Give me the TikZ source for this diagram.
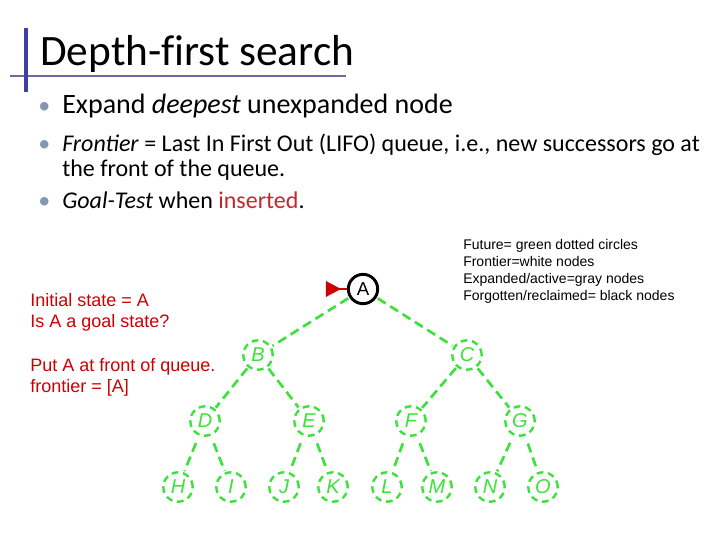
\documentclass[tikz,border=0pt]{standalone}
\usepackage{fontspec}
\setmainfont{Carlito}
\newfontfamily\notefont{Liberation Sans}
\newfontfamily\keyfont{Liberation Sans}
\definecolor{titlebar}{HTML}{3F3FA6}
\definecolor{titlerule}{HTML}{6C6C9C}
\definecolor{bulletcol}{HTML}{8497B0}
\definecolor{notered}{HTML}{CC0000}
\definecolor{insred}{HTML}{C0282D}
\definecolor{futuregreen}{HTML}{3AE23A}

\begin{document}
\begin{tikzpicture}[x=0.75pt,y=-0.75pt,
    txt/.style={anchor=base west,inner sep=0pt},
    future/.style={circle,draw=futuregreen,line width=1.8pt,dash pattern=on 5pt off 3.5pt,
        minimum size=22pt,inner sep=0pt,text=futuregreen,font=\keyfont\itshape\fontsize{15}{17}\selectfont},
    frontier/.style={circle,draw=black,line width=2.2pt,fill=white,
        minimum size=22pt,inner sep=0pt,font=\keyfont\fontsize{14}{16}\selectfont},
    edge/.style={futuregreen,line width=2pt,dash pattern=on 7pt off 4pt,shorten <=1pt,shorten >=1pt}]
        \useasboundingbox (0,0) rectangle (720,540);

        % title
        \node[txt,font=\fontsize{32.5}{38}\selectfont] (title) at (40,65) {Depth-f\kern0pt irst search};
        \draw[titlerule,line width=2.2pt] (10,76) -- (346,76);
        \draw[titlebar,line width=3pt] (26,28) -- (26,92);

        % bullets
        \node[txt,text=bulletcol,font=\fontsize{18}{22}\selectfont] (b1) at (38,113) {•};
        \node[txt,font=\fontsize{21}{25}\selectfont] (l1) at (62,113) {Expand \textit{deepest} unexpanded node};
        \begin{scope}[font=\fontsize{18}{22}\selectfont]
        \node[txt,text=bulletcol] (b2) at (38,151) {•};
        \node[txt] (l2) at (62,151) {\textit{Frontier} = Last In First Out (LIFO) queue, i.e., new successors go at};
        \node[txt] (l3) at (62,176) {the front of the queue.};
        \node[txt,text=bulletcol] (b3) at (38,208) {•};
        \node[txt] (l4) at (62,208) {\textit{Goal-Test} when \textcolor{insred}{inserted}.};
        \end{scope}

        % notes
        \begin{scope}[text=notered,font=\notefont\fontsize{13.5}{16}\selectfont]
        \node[txt] (n1) at (30,306) {Initial state = A};
        \node[txt] (n2) at (30,327) {Is A a goal state?};
        \node[txt] (n3) at (30,371) {Put A at front of queue.};
        \node[txt] (n4) at (30,392) {frontier = [A]};
        \end{scope}

        % key
        \begin{scope}[font=\keyfont\fontsize{10.5}{12}\selectfont]
        \node[txt] (k1) at (463,249) {Future= green dotted circles};
        \node[txt] (k2) at (463,266) {Frontier=white nodes};
        \node[txt] (k3) at (463,283) {Expanded/active=gray nodes};
        \node[txt] (k4) at (463,300) {Forgotten/reclaimed= black nodes};
        \end{scope}

        % tree
        \node[frontier] (A) at (363,289) {A};
        \node[future] (B) at (258,355) {B};
        \node[future] (C) at (467,355) {C};
        \node[future] (D) at (205,421) {D};
        \node[future] (E) at (309,421) {E};
        \node[future] (F) at (411,421) {F};
        \node[future] (G) at (520,421) {G};
        \node[future] (H) at (178,487) {H};
        \node[future] (I) at (231,487) {I};
        \node[future] (J) at (284,487) {J};
        \node[future] (K) at (333,487) {K};
        \node[future] (L) at (387,487) {L};
        \node[future] (M) at (437,487) {M};
        \node[future] (N) at (490,487) {N};
        \node[future] (O) at (543,487) {O};

        \draw[edge] (A) -- (B);
        \draw[edge] (A) -- (C);
        \draw[edge] (B) -- (D);
        \draw[edge] (B) -- (E);
        \draw[edge] (C) -- (F);
        \draw[edge] (C) -- (G);
        \draw[edge,shorten <=6pt] (D) -- (H);
        \draw[edge,shorten <=6pt] (D) -- (I);
        \draw[edge,shorten <=6pt] (E) -- (J);
        \draw[edge,shorten <=6pt] (E) -- (K);
        \draw[edge,shorten <=6pt] (F) -- (L);
        \draw[edge,shorten <=6pt] (F) -- (M);
        \draw[edge,shorten <=6pt] (G) -- (N);
        \draw[edge,shorten <=6pt] (G) -- (O);

        % start marker
        \fill[notered] ([shift={(-21,-8)}]A.west) -- ([shift={(-6,0)}]A.west) -- ([shift={(-21,8)}]A.west) -- cycle;
        \draw[notered,line width=1.5pt] ([xshift=-6]A.west) -- (A.west);
    \end{tikzpicture}
\end{document}
